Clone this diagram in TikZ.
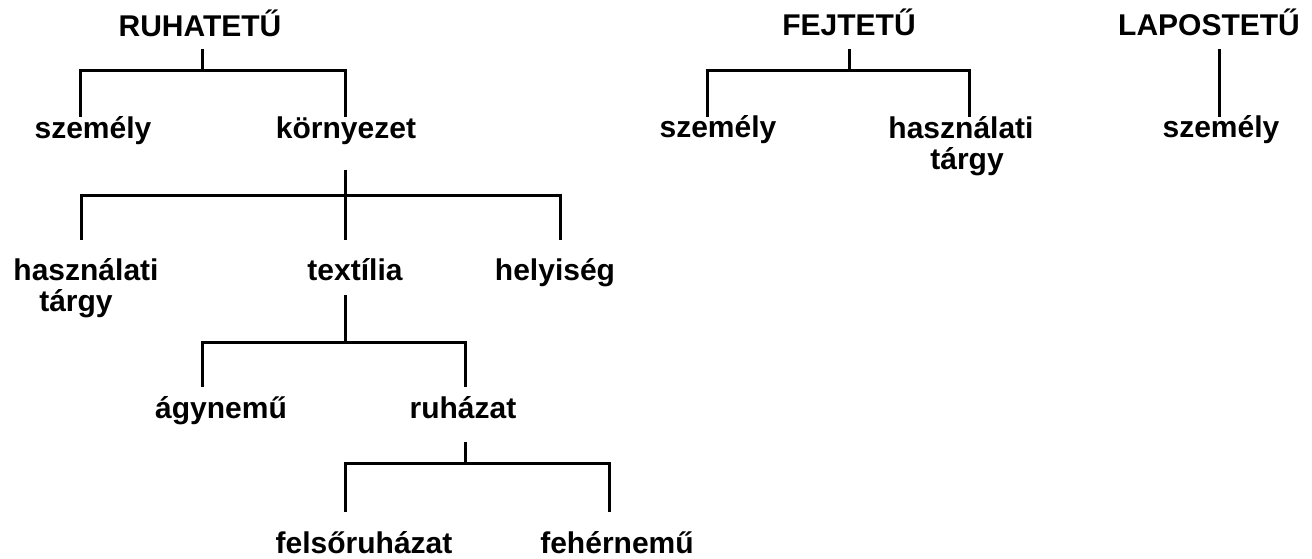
\documentclass[tikz,border=0pt]{standalone}
\usepackage{fontspec}
\setmainfont{Liberation Sans}
\begin{document}
\begin{tikzpicture}[x=1pt,y=-1pt,
  lbl/.style={font=\fontsize{30}{31}\selectfont\bfseries, inner sep=0pt, anchor=base, align=center},
  conn/.style={line width=3pt, line join=miter, line cap=butt}]
\useasboundingbox (0,0) rectangle (1312,559);
% ---- RUHATETŰ tree
\node[lbl] (ruha) at (200,37) {RUHATETŰ};
\node[lbl] (sz1) at (93,139) {személy};
\node[lbl] (korny) at (346,139) {környezet};
\node[lbl] (hasz1) at (86,311) {használati\\tárgy\kern20pt};
\node[lbl] (text) at (355,280) {textília};
\node[lbl] (hely) at (555,280) {helyiség};
\node[lbl] (agy) at (221,418) {ágynemű};
\node[lbl] (ruhaz) at (463,418) {ruházat};
\node[lbl] (felso) at (364,553) {felsőruházat};
\node[lbl] (feher) at (617,553) {fehérnemű};
% coordinates
\coordinate (a0) at (202,49); \coordinate (a1) at (202,71);
\coordinate (a2) at (80,117); \coordinate (a3) at (345,117);
\coordinate (b0) at (345,170); \coordinate (b1) at (345,195);
\coordinate (b2) at (81,240); \coordinate (b3) at (345,240); \coordinate (b4) at (560,240);
\coordinate (c0) at (345,295); \coordinate (c1) at (345,342);
\coordinate (c2) at (202,387); \coordinate (c3) at (465,387);
\coordinate (d0) at (465,442); \coordinate (d1) at (465,463);
\coordinate (d2) at (345,512); \coordinate (d3) at (609,512);
\draw[conn] (a0) -- (a1);
\draw[conn] (a2) |- (a1) -| (a3);
\draw[conn] (b0) -- (b3);
\draw[conn] (b2) |- (b1) -| (b4);
\draw[conn] (c0) -- (c1);
\draw[conn] (c2) |- (c1) -| (c3);
\draw[conn] (d0) -- (d1);
\draw[conn] (d2) |- (d1) -| (d3);
% ---- FEJTETŰ tree
\node[lbl] (fej) at (849,36) {FEJTETŰ};
\node[lbl] (sz2) at (718,138) {személy};
\node[lbl] (hasz2) at (961,169) {használati\\\kern12pt tárgy};
\coordinate (e0) at (849,49); \coordinate (e1) at (849,71);
\coordinate (e2) at (707,117); \coordinate (e3) at (969,117);
\draw[conn] (e0) -- (e1);
\draw[conn] (e2) |- (e1) -| (e3);
% ---- LAPOSTETŰ tree
\node[lbl] (lapos) at (1209,36) {LAPOSTETŰ};
\node[lbl] (sz3) at (1221,138) {személy};
\coordinate (f0) at (1219,49); \coordinate (f1) at (1219,117);
\draw[conn] (f0) -- (f1);
\end{tikzpicture}
\end{document}
